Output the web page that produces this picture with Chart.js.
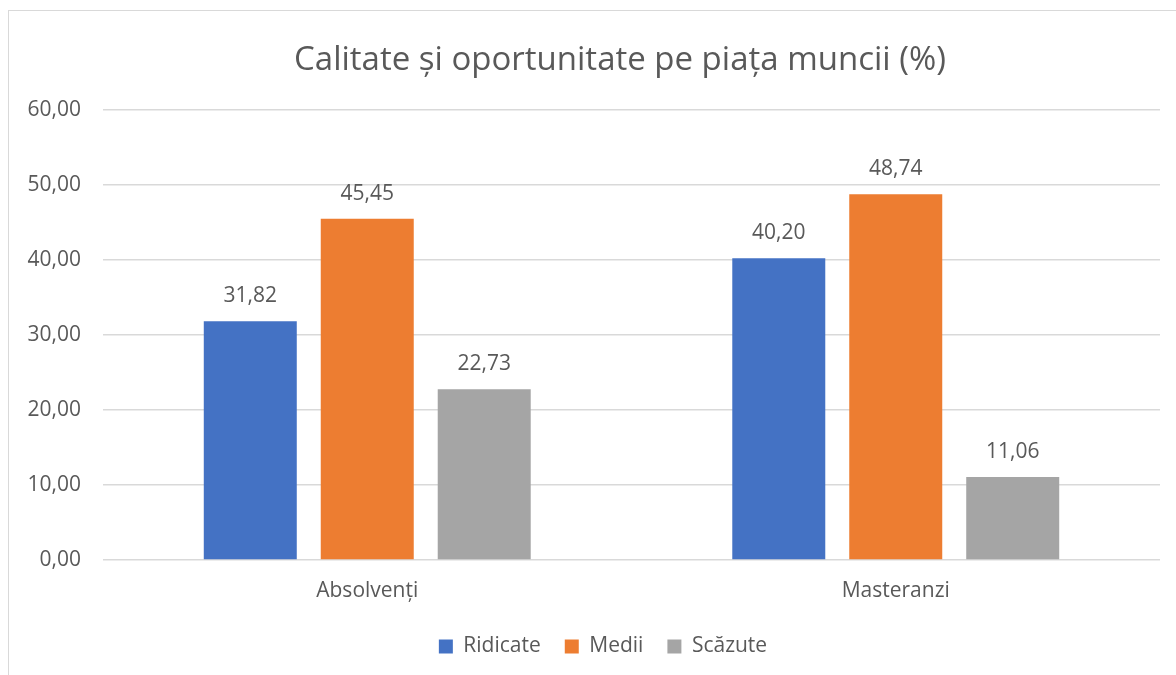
<!DOCTYPE html>
<html>
<head>
<meta charset="utf-8">
<script src="https://cdn.jsdelivr.net/npm/chart.js@4"></script>
<style>
    html, body { margin: 0; padding: 0; background: #fff; overflow: hidden; }
    #frame {
        position: absolute; left: 8px; top: 10px;
        width: 1240px; height: 700px;
        border: 1.5px solid #d9d9d9;
    }
    #wrap { position: absolute; left: 0; top: 0; width: 1239px; height: 675px; }
</style>
</head>
<body>
<div id="frame"></div>
<div id="wrap"><canvas id="chart"></canvas></div>
<script>
// Chart data
const categories = ['Absolvenți', 'Masteranzi'];
const ridicate = [31.82, 40.20];
const medii = [45.45, 48.74];
const scazute = [22.73, 11.06];
const yTicks = [0, 10, 20, 30, 40, 50, 60];

const textColor = '#595959';
const fontFamily = '"Open Sans", "Noto Sans", sans-serif';

function fmt(v) {
    return v.toFixed(2).replace('.', ',');
}

// Draw value labels above every bar
const valueLabels = {
    id: 'valueLabels',
    afterDatasetsDraw(chart) {
        const ctx = chart.ctx;
        ctx.save();
        ctx.font = '21px ' + fontFamily;
        ctx.fillStyle = textColor;
        ctx.textAlign = 'center';
        ctx.textBaseline = 'middle';
        chart.data.datasets.forEach(function(ds, i) {
            chart.getDatasetMeta(i).data.forEach(function(bar, j) {
                ctx.fillText(fmt(ds.data[j]), bar.x, bar.y - 25);
            });
        });
        ctx.restore();
    }
};

// Title and legend sit right of the plot centre, like in the original
const boxShift = {
    id: 'boxShift',
    afterLayout(chart) {
        chart.legend.left += 23;
        chart.legend.right += 23;
        chart.titleBlock.left += 40;
        chart.titleBlock.right += 40;
    }
};

new Chart(document.getElementById('chart'), {
    type: 'bar',
    data: {
        labels: categories,
        datasets: [
            { label: 'Ridicate', data: ridicate, backgroundColor: '#4472C4' },
            { label: 'Medii', data: medii, backgroundColor: '#ED7D31' },
            { label: 'Scăzute', data: scazute, backgroundColor: '#A5A5A5' }
        ]
    },
    options: {
        responsive: true,
        maintainAspectRatio: false,
        animation: false,
        categoryPercentage: 0.664,
        barPercentage: 0.795,
        layout: { padding: { left: 0, right: 79, top: 18, bottom: 8 } },
        plugins: {
            title: {
                display: true,
                text: 'Calitate și oportunitate pe piața muncii (%)',
                color: textColor,
                font: { family: fontFamily, size: 33, weight: 'normal' },
                padding: { top: 23, bottom: 29 }
            },
            legend: {
                position: 'bottom',
                labels: {
                    color: textColor,
                    font: { family: fontFamily, size: 21 },
                    boxWidth: 14,
                    boxHeight: 14,
                    padding: 24
                }
            },
            tooltip: { enabled: false }
        },
        scales: {
            x: {
                afterFit: function(scale) { scale.height = 52; },
                grid: { display: false, drawTicks: false },
                border: { display: false },
                ticks: {
                    color: textColor,
                    font: { family: fontFamily, size: 21 },
                    padding: 18
                }
            },
            y: {
                min: 0,
                max: 60,
                afterBuildTicks: function(scale) {
                    scale.ticks = yTicks.map(function(v) { return { value: v }; });
                },
                afterFit: function(scale) { scale.width = 103; },
                grid: { color: '#d9d9d9', lineWidth: 1.5, drawTicks: false },
                border: { display: false },
                ticks: {
                    color: textColor,
                    font: { family: fontFamily, size: 21 },
                    padding: 22,
                    callback: function(v) { return fmt(v); }
                }
            }
        }
    },
    plugins: [valueLabels, boxShift]
});
</script>
</body>
</html>
